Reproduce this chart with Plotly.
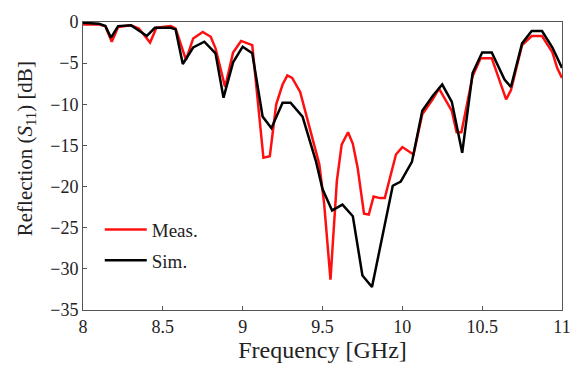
import plotly.graph_objects as go

# Measured (red)
meas_f = [8.0, 8.1, 8.14, 8.18, 8.22, 8.3, 8.35, 8.42, 8.46, 8.55, 8.58, 8.645, 8.69, 8.75, 8.8,
          8.83, 8.89, 8.94, 8.99, 9.06, 9.13, 9.17, 9.21, 9.25, 9.28, 9.31, 9.36, 9.48, 9.51,
          9.55, 9.59, 9.62, 9.66, 9.69, 9.72, 9.76, 9.79, 9.82, 9.86, 9.89, 9.96, 10.0, 10.07,
          10.125, 10.19, 10.23, 10.31, 10.34, 10.37, 10.44, 10.49, 10.56, 10.65, 10.68, 10.75,
          10.81, 10.875, 10.94, 10.97, 11.0]
meas_db = [-0.3, -0.3, -0.5, -2.4, -0.6, -0.4, -0.8, -2.5, -0.7, -0.5, -0.8, -4.6, -2.0, -1.2, -1.8,
           -3.2, -7.9, -3.7, -2.3, -2.8, -16.5, -16.3, -10.0, -7.6, -6.5, -6.8, -8.5, -17.3, -22.0,
           -31.3, -19.3, -14.9, -13.4, -14.8, -17.7, -23.3, -23.4, -21.2, -21.4, -21.4, -16.1, -15.2, -16.1,
           -11.2, -9.4, -8.1, -10.8, -13.4, -13.4, -6.6, -4.4, -4.4, -9.4, -8.3, -2.8,
           -1.7, -1.7, -3.7, -5.6, -6.8]

# Simulated (black)
sim_f = [8.0, 8.1, 8.14, 8.175, 8.22, 8.3, 8.4, 8.45, 8.55, 8.58, 8.625, 8.69, 8.76, 8.83, 8.88,
         8.94, 9.0, 9.06, 9.125, 9.18, 9.25, 9.3, 9.375, 9.46, 9.5, 9.56, 9.625, 9.69, 9.75, 9.81,
         9.94, 9.99, 10.06, 10.125, 10.19, 10.25, 10.31, 10.375, 10.44, 10.5, 10.56, 10.64, 10.68,
         10.75, 10.81, 10.875, 10.94, 11.0]
sim_db = [-0.1, -0.2, -0.5, -1.9, -0.5, -0.4, -1.7, -0.7, -0.7, -0.9, -5.1, -3.1, -2.4, -3.8, -9.2,
          -4.9, -3.0, -3.8, -11.5, -12.9, -9.8, -9.8, -11.5, -17.0, -20.3, -22.9, -22.2, -23.6, -30.8, -32.2,
          -19.9, -19.4, -17.0, -10.8, -9.0, -7.6, -9.7, -15.9, -6.2, -3.7, -3.7, -7.0, -7.9,
          -2.6, -1.1, -1.1, -3.1, -5.6]

x_ticks = [8, 8.5, 9, 9.5, 10, 10.5, 11]
y_ticks = [0, -5, -10, -15, -20, -25, -30, -35]

font_family = "Liberation Serif"

fig = go.Figure()
fig.add_trace(go.Scatter(x=meas_f, y=meas_db, mode="lines", name="Meas.", legendgroup="m",
                         line=dict(color="#ff1010", width=2.5)))
fig.add_trace(go.Scatter(x=sim_f, y=sim_db, mode="lines", name="Sim.", legendgroup="s",
                         line=dict(color="black", width=2.5)))

axis_common = dict(showgrid=False, zeroline=False, showline=True, linecolor="#555555",
                   linewidth=1, mirror=True, ticks="inside", ticklen=4, tickcolor="#555555",
                   tickfont=dict(family=font_family, size=18, color="#222"))

fig.update_layout(
    width=583, height=373,
    margin=dict(l=83, r=20, t=14, b=63),
    paper_bgcolor="white", plot_bgcolor="white",
    font=dict(family=font_family, color="#222"),
    xaxis=dict(range=[8, 11], tickvals=x_ticks, ticktext=[str(t) for t in x_ticks],
               title=dict(text="Frequency [GHz]", font=dict(family=font_family, size=24), standoff=4),
               **axis_common),
    yaxis=dict(range=[-35, 0], tickvals=y_ticks, **axis_common),
    legend=dict(x=0.035, y=0.105, xanchor="left", yanchor="bottom",
                bgcolor="rgba(0,0,0,0)", font=dict(family=font_family, size=19),
                itemwidth=42, tracegroupgap=3),
    showlegend=True,
    annotations=[dict(text="Reflection (<i>S</i><sub>11</sub>) [dB]", textangle=-90,
                      xref="paper", yref="paper", x=-0.12, y=0.56,
                      xanchor="center", yanchor="middle", showarrow=False,
                      font=dict(family=font_family, size=21, color="#222"))],
)

fig.write_html("out.html")
